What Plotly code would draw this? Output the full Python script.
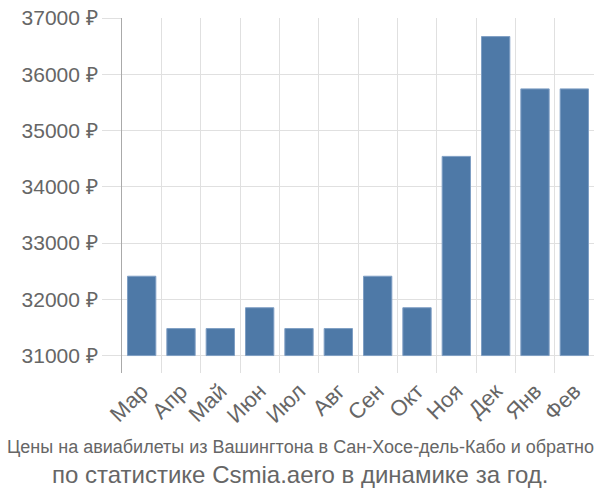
import plotly.graph_objects as go

months = ["Мар", "Апр", "Май", "Июн", "Июл", "Авг", "Сен", "Окт", "Ноя", "Дек", "Янв", "Фев"]
prices = [32410, 31480, 31480, 31850, 31480, 31480, 32410, 31850, 34540, 36670, 35740, 35740]
base_value = 31000
tick_values = [31000, 32000, 33000, 34000, 35000, 36000, 37000]
tick_labels = [f"{v} ₽" for v in tick_values]
title_line1 = "Цены на авиабилеты из Вашингтона в Сан-Хосе-дель-Кабо и обратно"
title_line2 = "по статистике Csmia.aero в динамике за год."

fig = go.Figure(go.Bar(
    x=months,
    y=[p - base_value for p in prices],
    base=base_value,
    width=0.72,
    marker=dict(color="#4e79a7", line=dict(color="#7f9fc4", width=1)),
    hoverinfo="skip",
))

font_family = "Liberation Sans, Arial, sans-serif"
W, H = 600, 500
ML, MR, MT, MB = 122, 6, 14, 127
fig.update_layout(
    width=W, height=H,
    margin=dict(l=ML, r=MR, t=MT, b=MB),
    paper_bgcolor="white", plot_bgcolor="white",
    showlegend=False,
    font=dict(family=font_family, color="#666666"),
    xaxis=dict(
        type="category",
        tickson="boundaries",
        showgrid=True, gridcolor="#e0e0e0", gridwidth=1,
        ticks="", tickangle=-45,
        tickfont=dict(size=22, color="#666666"),
        showline=False, zeroline=False,
    ),
    yaxis=dict(
        range=[30690, 37000],
        tickvals=tick_values, ticktext=tick_labels,
        showgrid=True, gridcolor="#e0e0e0", gridwidth=1,
        ticks="outside", ticklen=19, tickcolor="#e0e0e0", tickwidth=1,
        tickfont=dict(size=21, color="#666666"),
        showline=True, linecolor="#aaaaaa", linewidth=1,
        zeroline=False,
    ),
)
plot_w = W - ML - MR
plot_h = H - MT - MB
cx = (W / 2 - ML) / plot_w
for text, ypix, size in [
    (title_line1, 448, 18),
    (title_line2, 476, 24),
]:
    fig.add_annotation(
        text=text, x=cx, y=(H - MB - ypix) / plot_h,
        xref="paper", yref="paper", xanchor="center", yanchor="middle",
        showarrow=False, font=dict(size=size, color="#666666", family=font_family),
    )

fig.write_html("out.html")
